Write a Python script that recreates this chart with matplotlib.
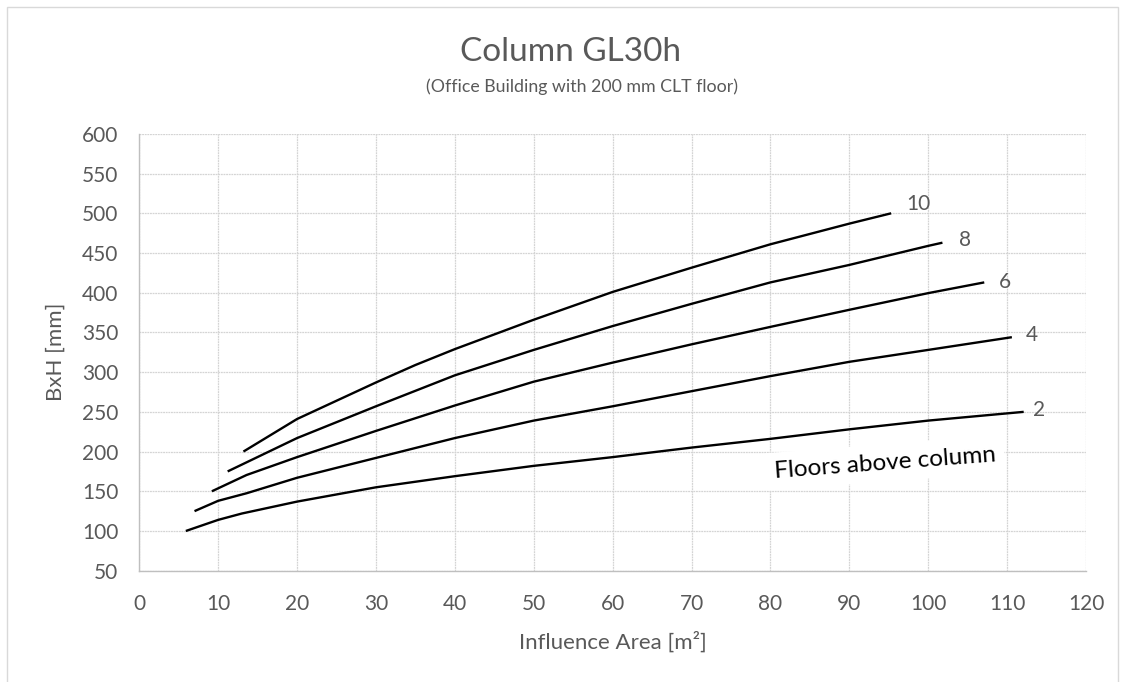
import matplotlib
matplotlib.use("Agg")
import matplotlib.pyplot as plt
from matplotlib.patches import Rectangle

plt.rcParams['font.family'] = ['Lato', 'DejaVu Sans']

# Column size (BxH, mm) against influence area (m²) for each number of floors
area_2 = [5.9, 10, 13, 20, 30, 40, 50, 60, 70, 80, 90, 100, 112.1]
size_2 = [100, 114, 122, 137, 155, 169, 182, 193, 205, 216, 228, 239, 250]

area_4 = [7.0, 10, 13.6, 20, 30, 40, 50, 60, 70, 80, 90, 100, 110.6]
size_4 = [125, 138, 147.5, 167, 192, 217, 239, 257, 276, 295, 313, 328, 344]

area_6 = [9.2, 13.6, 20, 30, 40, 50, 60, 70, 80, 90, 100, 107.1]
size_6 = [150, 170.5, 193, 226, 258, 288, 312, 335, 357, 378.5, 399.5, 413]

area_8 = [11.2, 20, 30, 40, 50, 60, 70, 80, 90, 100, 101.8]
size_8 = [175, 217, 257, 296, 328, 358, 386, 413, 435, 459, 463]

area_10 = [13.2, 20, 30, 35, 40, 50, 60, 70, 80, 90, 95.3]
size_10 = [200, 241, 287, 309, 329, 366, 401, 431.5, 461, 487, 500]

floor_labels = ["2", "4", "6", "8", "10"]
x_ticks = list(range(0, 121, 10))
y_ticks = list(range(50, 601, 50))

series = [(area_2, size_2), (area_4, size_4), (area_6, size_6),
          (area_8, size_8), (area_10, size_10)]
# label offsets from each curve end, in points
label_offsets = [(11, 1.5), (14.5, 1.5), (15, 0), (16.5, 2), (19.5, 7)]

GREY = '#595959'
fig = plt.figure(figsize=(11.26, 6.82), dpi=100)
fig.patch.set_facecolor('white')

# thin chart-area border
fig.patches.append(Rectangle((7 / 1126, -0.02), (1118 - 7) / 1126, 1.02 - 7 / 682,
                             transform=fig.transFigure, fill=False,
                             edgecolor='#D9D9D9', linewidth=1.0))

ax = fig.add_axes([0.1237, 0.1632, 0.9645 - 0.1237, 0.8037 - 0.1632])
ax.set_xlim(0, 120)
ax.set_ylim(50, 600)
ax.set_xticks(x_ticks)
ax.set_yticks(y_ticks)
ax.grid(True, color='#D4D4D4', linewidth=0.9, linestyle=(0, (1.5, 0.6)))
ax.set_axisbelow(True)
for side in ['top', 'right']:
    ax.spines[side].set_visible(False)
for side in ['left', 'bottom']:
    ax.spines[side].set_color('#BFBFBF')
    ax.spines[side].set_linewidth(1.0)
ax.tick_params(length=0, labelsize=15, labelcolor=GREY)
ax.tick_params(axis='x', pad=17)
ax.tick_params(axis='y', pad=15)

for (xs, ys), lab, off in zip(series, floor_labels, label_offsets):
    ax.plot(xs, ys, color='black', linewidth=1.7, solid_capstyle='butt')
    ax.annotate(lab, xy=(xs[-1], ys[-1]), xytext=off, textcoords='offset points',
                ha='center', va='center', fontsize=15, color=GREY)

ax.text(94.6, 185.6, "Floors above column", rotation=4.3, rotation_mode='anchor',
        ha='center', va='center', fontsize=17.5, color='black',
        bbox=dict(facecolor='white', edgecolor='none', pad=6))

ax.set_xlabel("Influence Area [m²]", fontsize=16, color=GREY, labelpad=12)
ax.set_ylabel("BxH [mm]", fontsize=16, color=GREY, labelpad=12)

fig.text(571 / 1126, 1 - 52 / 682, "Column GL30h", ha='center', va='center',
         fontsize=24, color=GREY)
fig.text(582 / 1126, 1 - 87 / 682, "(Office Building with 200 mm CLT floor)",
         ha='center', va='center', fontsize=12.8, color=GREY)

fig.savefig("out.png", dpi=100, facecolor='white')
